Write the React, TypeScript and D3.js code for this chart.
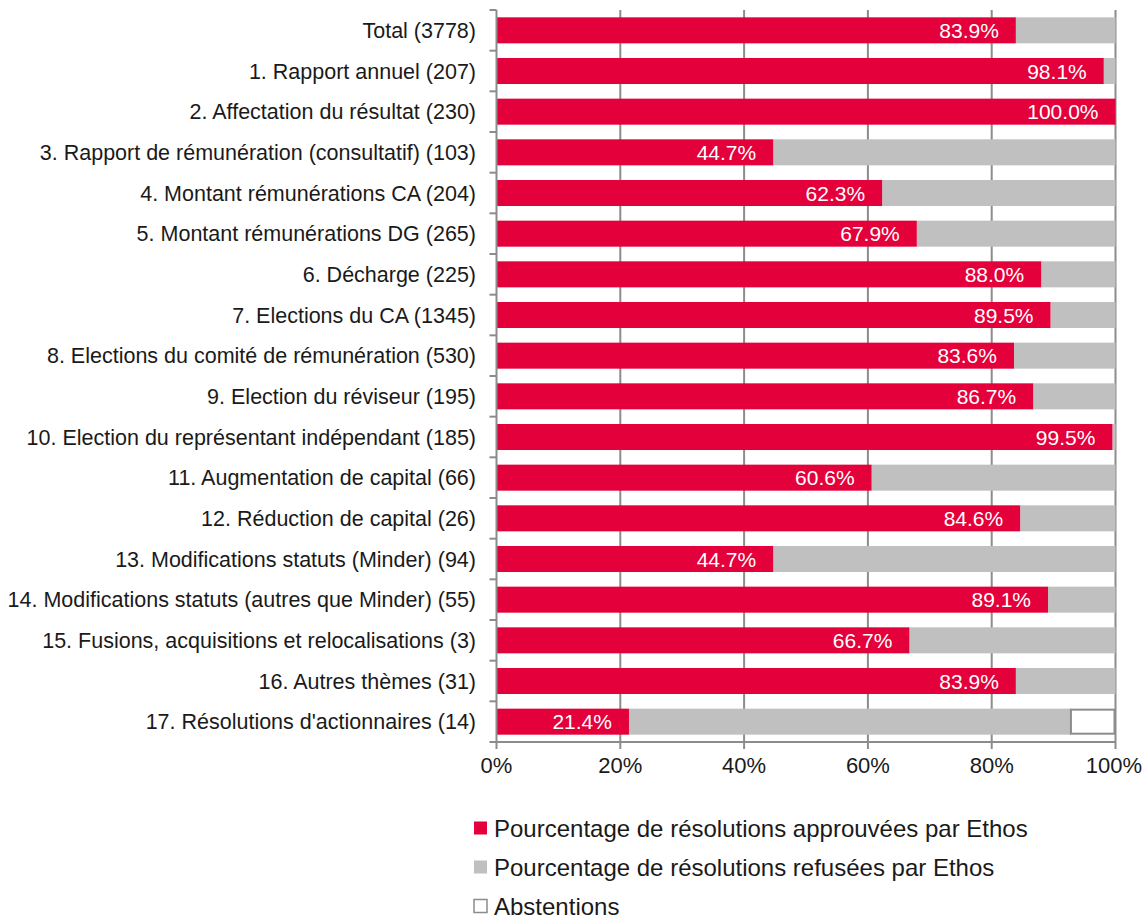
import React from "react";
import * as d3 from "d3";

const categories = [
  "Total (3778)",
  "1. Rapport annuel (207)",
  "2. Affectation du résultat (230)",
  "3. Rapport de rémunération (consultatif) (103)",
  "4. Montant rémunérations CA (204)",
  "5. Montant rémunérations DG (265)",
  "6. Décharge (225)",
  "7. Elections du CA (1345)",
  "8. Elections du comité de rémunération (530)",
  "9. Election du réviseur (195)",
  "10. Election du représentant indépendant (185)",
  "11. Augmentation de capital (66)",
  "12. Réduction de capital (26)",
  "13. Modifications statuts (Minder) (94)",
  "14. Modifications statuts (autres que Minder) (55)",
  "15. Fusions, acquisitions et relocalisations (3)",
  "16. Autres thèmes (31)",
  "17. Résolutions d'actionnaires (14)",
];
const approved = [83.9, 98.1, 100.0, 44.7, 62.3, 67.9, 88.0, 89.5, 83.6, 86.7, 99.5, 60.6, 84.6, 44.7, 89.1, 66.7, 83.9, 21.4];
const refused = [16.1, 1.9, 0.0, 55.3, 37.7, 32.1, 12.0, 10.5, 16.4, 13.3, 0.5, 39.4, 15.4, 55.3, 10.9, 33.3, 16.1, 71.4];
const abstentions = [0, 0, 0, 0, 0, 0, 0, 0, 0, 0, 0, 0, 0, 0, 0, 0, 0, 7.2];
const xTicks = [0, 20, 40, 60, 80, 100];
const seriesNames = [
  "Pourcentage de résolutions approuvées par Ethos",
  "Pourcentage de résolutions refusées par Ethos",
  "Abstentions",
];

const RED = "#E4003A";
const GREY = "#C0C0C0";
const AXIS = "#8C8C8C";
const FONT = "'Liberation Sans', Arial, sans-serif";

export default function App() {
  const W = 1146, H = 919;
  const left = 496.5, right = 1115.5, top = 10, bottom = 742;
  const x = d3.scaleLinear().domain([0, 100]).range([left, right]);
  const y = d3.scaleBand<string>().domain(categories).range([top, bottom]).paddingInner(0.36).paddingOuter(0.18);
  const band = (bottom - top) / categories.length;
  const legendColors = [RED, GREY, "#fff"];
  return (
    <svg width={W} height={H} style={{ position: "absolute", left: 0, top: 0, background: "#fff" }} fontFamily={FONT}>
      {xTicks.slice(1).map((t) => (
        <line key={"g" + t} x1={x(t)} x2={x(t)} y1={top} y2={bottom} stroke={AXIS} strokeWidth={2} />
      ))}
      {categories.map((c, i) => {
        const y0 = y(c)!;
        const h = y.bandwidth();
        const a = approved[i], r = refused[i], ab = abstentions[i];
        return (
          <g key={c}>
            {r > 0 && <rect x={x(a)} y={y0} width={x(a + r) - x(a)} height={h} fill={GREY} />}
            {ab > 0 && (
              <rect x={x(a + r)} y={y0 + 1} width={x(a + r + ab) - x(a + r) - 1} height={h - 2} fill="#fff" stroke={AXIS} strokeWidth={2} />
            )}
            <rect x={x(0)} y={y0} width={x(a) - x(0)} height={h} fill={RED} />
            <text x={x(a) - 17} y={y0 + h / 2} dy="0.36em" textAnchor="end" fill="#fff" fontSize={21}>
              {a.toFixed(1) + "%"}
            </text>
            <text x={476} y={y0 + h / 2} dy="0.36em" textAnchor="end" fill="#1a1a1a" fontSize={21.5}>
              {c}
            </text>
          </g>
        );
      })}
      <line x1={left} x2={left} y1={top} y2={bottom} stroke={AXIS} strokeWidth={2} />
      {d3.range(categories.length + 1).map((k) => (
        <line key={"yt" + k} x1={left - 7} x2={left} y1={top + k * band} y2={top + k * band} stroke={AXIS} strokeWidth={2} />
      ))}
      <line x1={left} x2={right} y1={bottom} y2={bottom} stroke={AXIS} strokeWidth={2} />
      {xTicks.map((t) => (
        <g key={"xt" + t}>
          <line x1={x(t)} x2={x(t)} y1={bottom} y2={bottom + 7} stroke={AXIS} strokeWidth={2} />
          <text x={Math.min(x(t), 1114)} y={bottom + 31} textAnchor="middle" fill="#1a1a1a" fontSize={22}>
            {t + "%"}
          </text>
        </g>
      ))}
      {seriesNames.map((s, i) => (
        <g key={s} transform={`translate(474, ${828 + i * 39})`}>
          <rect x={0} y={-6.5} width={13} height={13} fill={legendColors[i]} stroke={i === 2 ? AXIS : "none"} strokeWidth={1.5} />
          <text x={20} y={0} dy="0.36em" fill="#1a1a1a" fontSize={24}>
            {s}
          </text>
        </g>
      ))}
    </svg>
  );
}
